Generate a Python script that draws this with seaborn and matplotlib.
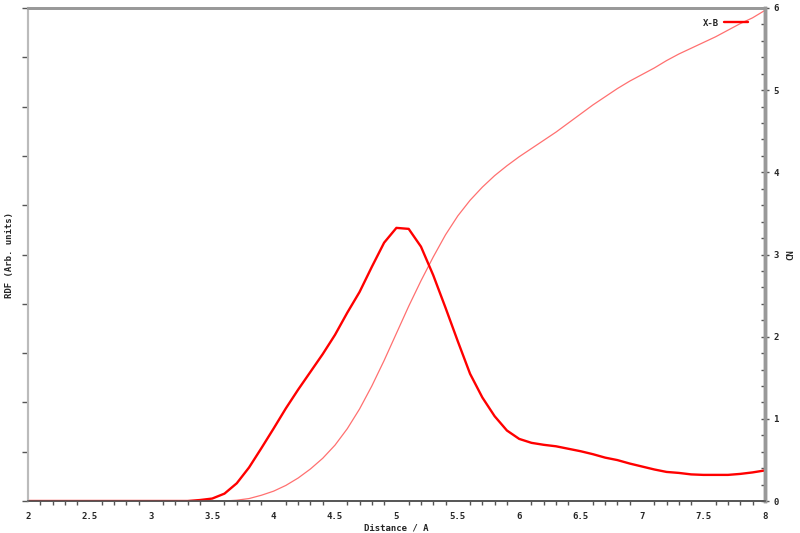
import matplotlib
matplotlib.use("Agg")
import matplotlib.pyplot as plt
import seaborn as sns
import pandas as pd
import numpy as np
from matplotlib.ticker import MultipleLocator

sns.set_theme(style="white")
plt.rcParams["font.family"] = ["DejaVu Sans Mono"]
plt.rcParams["font.weight"] = "bold"

# расстояние, шаг 0.1 от 2 до 8
distance = [round(2.0 + 0.1 * i, 1) for i in range(61)]

# RDF (произвольные единицы)
rdf = [0, 0, 0, 0, 0, 0, 0, 0, 0, 0,
       0, 0, 0, 0, 0.02, 0.05, 0.15, 0.36, 0.68, 1.07,
       1.47, 1.88, 2.26, 2.62, 2.98, 3.37, 3.82, 4.24, 4.75, 5.24,
       5.54, 5.52, 5.16, 4.58, 3.92, 3.24, 2.58, 2.10, 1.72, 1.43,
       1.26, 1.18, 1.14, 1.11, 1.06, 1.01, 0.95, 0.88, 0.83, 0.76,
       0.70, 0.64, 0.59, 0.57, 0.54, 0.53, 0.53, 0.53, 0.55, 0.58,
       0.62]

# координационное число
cn = [0, 0, 0, 0, 0, 0, 0, 0, 0, 0,
      0, 0, 0, 0, 0, 0, 0, 0.01, 0.03, 0.07,
      0.12, 0.19, 0.28, 0.39, 0.52, 0.68, 0.88, 1.12, 1.40, 1.71,
      2.04, 2.37, 2.68, 2.97, 3.24, 3.47, 3.66, 3.82, 3.96, 4.08,
      4.19, 4.29, 4.39, 4.49, 4.60, 4.71, 4.82, 4.92, 5.02, 5.11,
      5.19, 5.27, 5.36, 5.44, 5.51, 5.58, 5.65, 5.73, 5.81, 5.88,
      5.97]

df = pd.DataFrame({"distance": distance, "rdf": rdf, "cn": cn})

fig = plt.figure(figsize=(8, 5.33), dpi=100)
ax = fig.add_axes([0.035, 0.060, 0.921, 0.925])
ax2 = ax.twinx()

sns.lineplot(data=df, x="distance", y="cn", ax=ax2, color="#ff7070",
             linewidth=0.9, legend=False)
sns.lineplot(data=df, x="distance", y="rdf", ax=ax, color="#ff0000",
             linewidth=1.7, label="X-B")
ax.set_zorder(ax2.get_zorder() + 1)
ax.patch.set_visible(False)

ax.set_xlim(2, 8)
ax.set_ylim(0, 10)
ax2.set_ylim(0, 6)

ax.xaxis.set_major_locator(MultipleLocator(0.5))
ax.xaxis.set_minor_locator(MultipleLocator(0.1))
ax.yaxis.set_major_locator(MultipleLocator(1))
ax.set_yticklabels([])
ax2.yaxis.set_major_locator(MultipleLocator(1))
ax2.yaxis.set_minor_locator(MultipleLocator(0.2))

ax.set_xticklabels([f"{v:g}" for v in ax.get_xticks()])
ax.tick_params(axis="x", which="major", direction="out", length=4, width=1,
               color="#555555", labelsize=6.5, pad=4)
ax.tick_params(axis="x", which="minor", direction="out", length=3, width=1,
               color="#555555", bottom=True)
ax.tick_params(axis="y", which="major", direction="out", length=4, width=1,
               color="#555555", left=True)
ax2.tick_params(axis="y", which="major", direction="inout", length=6, width=1,
                color="#555555", labelsize=6.5, pad=3, right=True)
ax2.tick_params(axis="y", which="minor", direction="in", length=3, width=1,
                color="#555555", right=True)

for a in (ax, ax2):
    a.spines["top"].set_color("#999999")
    a.spines["top"].set_linewidth(2)
    a.spines["left"].set_color("#bbbbbb")
    a.spines["left"].set_linewidth(1.5)
    a.spines["right"].set_color("#999999")
    a.spines["right"].set_linewidth(2.5)
    a.spines["bottom"].set_color("#555555")
    a.spines["bottom"].set_linewidth(1.2)

ax.set_xlabel("Distance / A", fontsize=6.5, fontweight="bold")
ax.set_ylabel("RDF (Arb. units)", fontsize=6.5, fontweight="bold")
ax2.set_ylabel("CN", fontsize=6.5, fontweight="bold", rotation=90)
ax.xaxis.set_label_coords(0.5, -0.045)
ax.yaxis.set_label_coords(-0.019, 0.5)
ax2.yaxis.set_label_coords(1.029, 0.5)

ax.legend(loc="upper right", bbox_to_anchor=(0.988, 0.995), frameon=False,
          markerfirst=False, fontsize=6.5, handlelength=2.6, handletextpad=0.6)

fig.savefig("out.png", dpi=100)
